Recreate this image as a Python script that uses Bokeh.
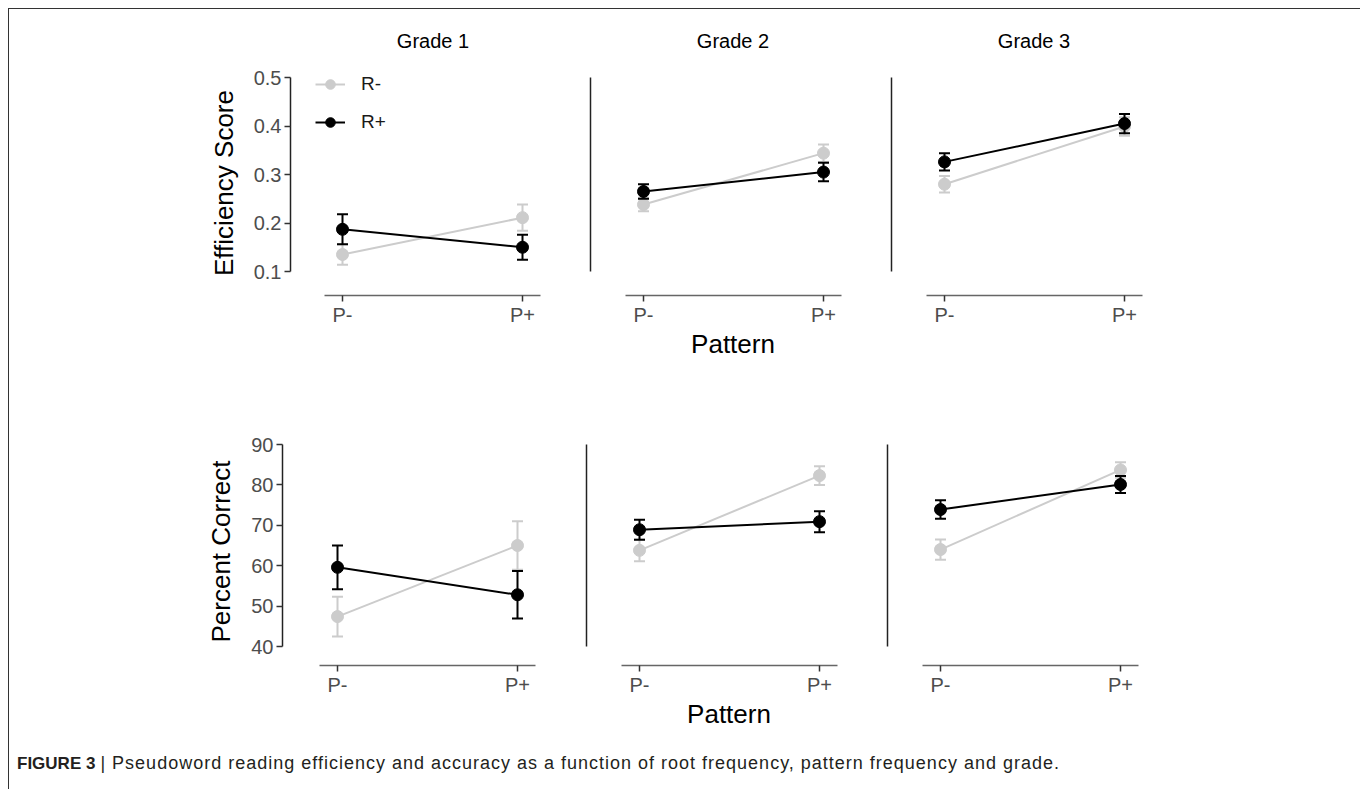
from bokeh.plotting import figure
from bokeh.models import ColumnDataSource, FixedTicker, Range1d, Legend, LegendItem, Title, Div
from bokeh.layouts import row, column
from bokeh.embed import file_html
from bokeh.resources import INLINE

categories = ["P-", "P+"]
grades = ["Grade 1", "Grade 2", "Grade 3"]
groups = ["R-", "R+"]

eff_rminus = [[0.135, 0.211], [0.238, 0.344], [0.280, 0.399]]
eff_rminus_err = [[0.021, 0.027], [0.014, 0.018], [0.017, 0.019]]
eff_rplus = [[0.187, 0.150], [0.265, 0.305], [0.326, 0.405]]
eff_rplus_err = [[0.031, 0.026], [0.015, 0.019], [0.018, 0.020]]

acc_rminus = [[47.4, 65.0], [63.8, 82.3], [64.0, 83.7]]
acc_rminus_err = [[4.9, 6.0], [2.7, 2.3], [2.5, 1.9]]
acc_rplus = [[59.6, 52.8], [68.9, 70.9], [73.9, 80.1]]
acc_rplus_err = [[5.4, 5.9], [2.5, 2.6], [2.3, 2.1]]

eff_ticks = [0.1, 0.2, 0.3, 0.4, 0.5]
acc_ticks = [40, 50, 60, 70, 80, 90]

COLORS = {"R-": "#cccccc", "R+": "#000000"}
FONT = "Liberation Sans"
FRAME_W = 285
PX_PER_CAT = 180


def make_panel(col, vals, errs, ticks, ylabel, frame_h, top_b, bot_b, left_b, right_b,
               left_off, pad_bottom_px, pad_top_px, show_title, show_legend):
    xs = [i + 1 for i in range(len(categories))]
    x_start = xs[0] - left_off / PX_PER_CAT
    x_end = xs[0] + (FRAME_W - left_off) / PX_PER_CAT
    span = ticks[-1] - ticks[0]
    ppu = (frame_h - pad_bottom_px - pad_top_px) / span
    y_start = ticks[0] - pad_bottom_px / ppu
    y_end = ticks[-1] + pad_top_px / ppu
    p = figure(frame_width=FRAME_W, frame_height=frame_h,
               x_range=Range1d(x_start, x_end), y_range=Range1d(y_start, y_end),
               output_backend="svg", toolbar_location=None,
               min_border_left=left_b, min_border_right=right_b,
               min_border_top=top_b, min_border_bottom=bot_b)
    p.outline_line_color = None
    p.xgrid.visible = False
    p.ygrid.visible = False
    p.background_fill_color = "white"
    p.border_fill_color = "white"

    # x axis
    xa = p.xaxis[0]
    xa.ticker = FixedTicker(ticks=xs, minor_ticks=[])
    xa.major_label_overrides = {x: c for x, c in zip(xs, categories)}
    xa.bounds = (xs[0] - 0.1, xs[-1] + 0.1)
    xa.axis_line_color = "#666666"
    xa.axis_line_width = 1.3
    xa.major_tick_line_color = "#333333"
    xa.major_tick_line_width = 1.5
    xa.major_tick_out = 6
    xa.major_tick_in = 0
    xa.minor_tick_line_color = None
    xa.major_label_text_font = FONT
    xa.major_label_text_font_size = "20px"
    xa.major_label_text_color = "#4d4d4d"
    xa.major_label_standoff = 2
    if col == 1:
        xa.axis_label = "Pattern"
        xa.axis_label_text_font = FONT
        xa.axis_label_text_font_size = "26px"
        xa.axis_label_text_font_style = "normal"
        xa.axis_label_text_color = "#000000"
        xa.axis_label_standoff = 0

    # y axis
    ya = p.yaxis[0]
    ya.bounds = (ticks[0], ticks[-1])
    ya.axis_line_color = "#222222"
    ya.axis_line_width = 1.5
    ya.minor_tick_line_color = None
    if col == 0:
        ya.ticker = FixedTicker(ticks=ticks, minor_ticks=[])
        ya.major_tick_line_color = "#333333"
        ya.major_tick_line_width = 1.5
        ya.major_tick_out = 6
        ya.major_tick_in = 0
        ya.major_label_text_font = FONT
        ya.major_label_text_font_size = "20px"
        ya.major_label_text_color = "#4d4d4d"
        ya.major_label_standoff = 3
        ya.axis_label = ylabel
        ya.axis_label_text_font = FONT
        ya.axis_label_text_font_size = "26px"
        ya.axis_label_text_font_style = "normal"
        ya.axis_label_text_color = "#000000"
        ya.axis_label_standoff = 12
    else:
        ya.ticker = FixedTicker(ticks=[], minor_ticks=[])
        ya.major_tick_line_color = None
        ya.major_label_text_font_size = "0px"

    if show_title:
        p.add_layout(Title(text=grades[col], align="center", vertical_align="top",
                           text_font=FONT, text_font_size="20px", text_font_style="normal",
                           text_color="#000000", standoff=34), "above")

    items = []
    for g in groups:
        v = vals[g][col]
        e = errs[g][col]
        src = ColumnDataSource(dict(x=xs, y=v,
                                    lo=[a - b for a, b in zip(v, e)],
                                    hi=[a + b for a, b in zip(v, e)]))
        c = COLORS[g]
        p.segment(x0="x", y0="lo", x1="x", y1="hi", source=src, line_color=c, line_width=2)
        p.scatter(x="x", y="hi", source=src, marker="dash", size=11, line_color=c, line_width=2)
        p.scatter(x="x", y="lo", source=src, marker="dash", size=11, line_color=c, line_width=2)
        ln = p.line(x="x", y="y", source=src, line_color=c, line_width=2)
        pt = p.scatter(x="x", y="y", source=src, marker="circle", size=12,
                       fill_color=c, line_color=c)
        items.append(LegendItem(label=g, renderers=[ln, pt]))

    if show_legend:
        leg = Legend(items=items, location=(25, 161), glyph_width=30, glyph_height=24,
                     label_height=24, spacing=14, padding=0, margin=0,
                     border_line_color=None, background_fill_alpha=0,
                     label_text_font=FONT, label_text_font_size="19px",
                     label_text_color="#1a1a1a", label_standoff=16)
        p.add_layout(leg)
    return p


eff_vals = {"R-": eff_rminus, "R+": eff_rplus}
eff_errs = {"R-": eff_rminus_err, "R+": eff_rplus_err}
acc_vals = {"R-": acc_rminus, "R+": acc_rplus}
acc_errs = {"R-": acc_rminus_err, "R+": acc_rplus_err}

top_left = [281, 10, 10]
top_right = [5, 6, 10]
top_off = [52, 53, 53]
bot_left = [273, 14, 11]
bot_right = [5, 5, 10]
bot_off = [55, 53, 53]

top = [make_panel(i, eff_vals, eff_errs, eff_ticks, "Efficiency Score", 225, 61, 70,
                  top_left[i], top_right[i], top_off[i], 24, 7, True, i == 0)
       for i in range(3)]
bottom = [make_panel(i, acc_vals, acc_errs, acc_ticks, "Percent Correct", 228, 72, 60,
                     bot_left[i], bot_right[i], bot_off[i], 19, 7, False, False)
          for i in range(3)]

caption = Div(
    text=('<div style="font-family: \'Liberation Sans\', Arial, sans-serif; font-size: 18px; '
          'color: #231f20; padding-left: 3px; padding-top: 15px; white-space: nowrap;">'
          '<b style="font-size: 17px;">FIGURE 3</b> '
          '<span style="letter-spacing: 1.0px;">| Pseudoword reading efficiency and accuracy '
          'as a function of root frequency, pattern frequency and grade.</span></div>'),
    width=1346, height=55)

layout = column(row(*top, spacing=0), row(*bottom, spacing=0), caption, spacing=0,
                margin=(8, 0, 0, 8),
                styles={"border-left": "1px solid #333333", "border-top": "1px solid #333333",
                        "border-right": "1px solid #333333"})

open("out.html", "w").write(file_html(layout, INLINE))
